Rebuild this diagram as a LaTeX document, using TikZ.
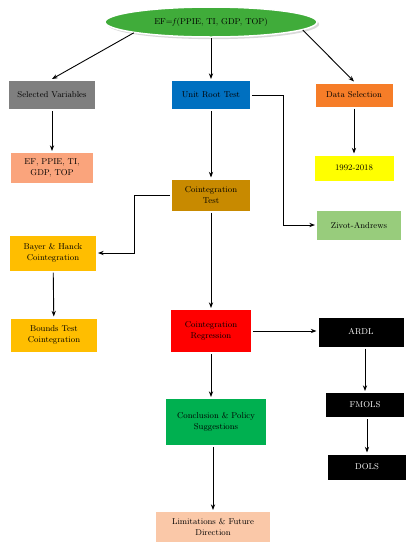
\documentclass[tikz,border=0pt]{standalone}
\usetikzlibrary{arrows.meta,shapes.geometric,shadows}

\definecolor{ovalgreen}{RGB}{64,172,58}
\definecolor{boxgray}{RGB}{127,127,127}
\definecolor{boxblue}{RGB}{0,112,192}
\definecolor{boxorange}{RGB}{246,125,40}
\definecolor{boxsalmon}{RGB}{250,164,124}
\definecolor{boxyellow}{RGB}{255,255,0}
\definecolor{boxgold}{RGB}{200,138,0}
\definecolor{boxmint}{RGB}{152,204,124}
\definecolor{boxamber}{RGB}{255,190,0}
\definecolor{boxred}{RGB}{255,0,0}
\definecolor{boxgreen}{RGB}{0,176,80}
\definecolor{boxpeach}{RGB}{250,200,168}

\tikzset{
  stepbox/.style={rectangle,draw=white,line width=2pt,font=\fontsize{8.5}{10.5}\selectfont,
    align=center,inner sep=2pt,drop shadow={opacity=0.35,shadow xshift=0.6pt,shadow yshift=-0.8pt}},
  link/.style={->,line width=0.9pt,>={Stealth[length=2mm]}}
}

\begin{document}
\begin{tikzpicture}[x=1pt,y=-1pt]
  \useasboundingbox (0,0) rectangle (413,550);
  % top
  \node[ellipse,fill=ovalgreen,draw=white,line width=1.5pt,minimum width=212pt,minimum height=30pt,
    font=\fontsize{8.5}{10.5}\selectfont,drop shadow={opacity=0.3}] (model) at (211,22) {EF=\textit{f}(PPIE, TI, GDP, TOP)};
  % first row
  \node[stepbox,fill=boxgray,minimum width=88pt,minimum height=30pt] (selvar) at (52,95) {Selected Variables};
  \node[stepbox,fill=boxblue,minimum width=80pt,minimum height=30pt] (unitroot) at (211,95) {Unit Root Test};
  \node[stepbox,fill=boxorange,minimum width=79pt,minimum height=25pt] (datasel) at (354,95) {Data Selection};
  % second row
  \node[stepbox,fill=boxsalmon,minimum width=84pt,minimum height=32pt] (vars) at (52,168) {EF, PPIE, TI,\\GDP, TOP};
  \node[stepbox,fill=boxyellow,minimum width=81pt,minimum height=27pt] (period) at (354,168) {1992-2018};
  \node[stepbox,fill=boxgold,minimum width=80pt,minimum height=33pt] (cointest) at (211,195) {Cointegration\\Test};
  \node[stepbox,fill=boxmint,minimum width=86pt,minimum height=31pt] (zivot) at (359,225) {Zivot-Andrews};
  \node[stepbox,fill=boxamber,minimum width=88pt,minimum height=37pt] (bayer) at (53,253) {Bayer \& Hanck\\Cointegration};
  % lower part
  \node[stepbox,fill=boxamber,minimum width=88pt,minimum height=35pt] (bounds) at (54,335) {Bounds Test\\Cointegration};
  \node[stepbox,fill=boxred,minimum width=82pt,minimum height=44pt] (coinreg) at (211,331) {Cointegration\\Regression};
  \node[stepbox,fill=black,text=white,minimum width=87pt,minimum height=31pt] (ardl) at (361,332) {ARDL};
  \node[stepbox,fill=black,text=white,minimum width=80pt,minimum height=26pt] (fmols) at (365,405) {FMOLS};
  \node[stepbox,fill=black,text=white,minimum width=80pt,minimum height=27pt] (dols) at (367,467) {DOLS};
  \node[stepbox,fill=boxgreen,minimum width=102pt,minimum height=48pt] (concl) at (216,422) {Conclusion \& Policy\\Suggestions};
  \node[stepbox,fill=boxpeach,minimum width=116pt,minimum height=32pt] (limit) at (213,527) {Limitations \& Future\\Direction};
  % connectors
  \draw[link] (model.188) -- (selvar.north);
  \draw[link] (model.south) -- (unitroot.north);
  \draw[link] (model.355) -- (datasel.north);
  \draw[link] (selvar) -- (vars);
  \draw[link] (datasel) -- (period);
  \draw[link] (unitroot) -- (cointest);
  \draw[link] (unitroot.east) -- ++(31,0) |- (zivot.west);
  \draw[link] (cointest.west) -- ++(-36,0) |- (bayer.east);
  \draw[link] (bayer) -- (bounds);
  \draw[link] (cointest) -- (coinreg);
  \draw[link] (coinreg.east) -- (ardl.west |- coinreg.east);
  \draw[link] (ardl.south -| fmols.north) -- (fmols.north);
  \draw[link] (fmols.south -| dols.north) -- (dols.north);
  \draw[link] (coinreg.south) -- (coinreg.south |- concl.north);
  \draw[link] (concl.south -| limit.north) -- (limit.north);
\end{tikzpicture}
\end{document}
